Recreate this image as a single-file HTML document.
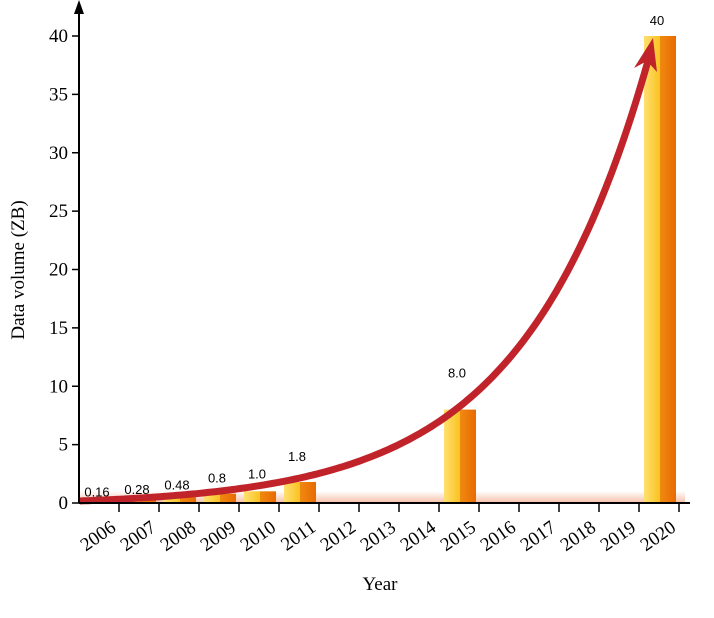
<!DOCTYPE html>
<html><head><meta charset="utf-8"><style>
body{margin:0;background:#fff;width:714px;height:618px;overflow:hidden}
svg{display:block}
.tk{font-family:"Liberation Serif",serif;font-size:19px;fill:#000}
.vl{font-family:"Liberation Sans",sans-serif;font-size:13px;fill:#000}
</style></head><body>
<svg id="chart" width="714" height="618" viewBox="0 0 714 618">
<defs>
<linearGradient id="floor" x1="0" y1="0" x2="0" y2="1"><stop offset="0" stop-color="#fff"/><stop offset="1" stop-color="#f7c0a8"/></linearGradient>
<linearGradient id="front" x1="0" y1="0" x2="1" y2="0"><stop offset="0" stop-color="#ffe070"/><stop offset="1" stop-color="#f9c320"/></linearGradient>
<linearGradient id="side" x1="0" y1="0" x2="1" y2="0"><stop offset="0" stop-color="#f08a10"/><stop offset="1" stop-color="#e86a00"/></linearGradient>
</defs>
<rect x="80" y="491" width="605" height="12" fill="url(#floor)"/>
<g id="bars"></g>
<g id="labels"></g>
<path id="arrow" d="" fill="none" stroke="#c0242a" stroke-width="7" stroke-linejoin="round"/>
<polygon points="653,38 634,68 647,61 657,72" fill="#c0242a"/>
<line x1="79" y1="503" x2="690" y2="503" stroke="#000" stroke-width="2"/>
<line x1="79" y1="503" x2="79" y2="6" stroke="#000" stroke-width="2"/>
<polygon points="79,0 74,14 84,14" fill="#000"/>
<g id="ticks"></g>
<text class="tk" x="380" y="590" text-anchor="middle" font-size="21">Year</text>
<text class="tk" transform="translate(24,270) rotate(-90)" text-anchor="middle" font-size="21">Data volume (ZB)</text>
</svg>
<script>
const years=["2006","2007","2008","2009","2010","2011","2012","2013","2014","2015","2016","2017","2018","2019","2020"];
const values=[0.16,0.28,0.48,0.8,1.0,1.8,null,null,null,8.0,null,null,null,null,40];
const valueLabels=["0.16","0.28","0.48","0.8","1.0","1.8","","","","8.0","","","","","40"];
const yTicks=[0,5,10,15,20,25,30,35,40];
const NS="http://www.w3.org/2000/svg";
const y0=503,pu=11.675;
function ys(v){return y0-v*pu;}
function xc(i){return 99+40*i;}
function mk(t,a,p){const e=document.createElementNS(NS,t);for(const k in a)e.setAttribute(k,a[k]);p.appendChild(e);return e;}
const bars=document.getElementById('bars'),labels=document.getElementById('labels'),ticks=document.getElementById('ticks');
values.forEach((v,i)=>{
  if(v==null)return;
  const c=xc(i),top=ys(v),h=y0-top;
  const g=mk('g',{},bars);
  
  
  mk('rect',{x:c-15,y:top,width:16,height:h,fill:'url(#front)'},g);
  mk('rect',{x:c+1,y:top,width:16,height:h,fill:'url(#side)'},g);
  const off=v>20?11:(v>5?32:3+v*10);
  const t=mk('text',{x:c-2,y:top-off,class:'vl','text-anchor':'middle'},labels);
  
  
  t.textContent=valueLabels[i];
});
// growth arrow (decorative exponential trend)
(function(){
  let d='';
  for(let x=80;x<=648;x+=4){
    const y=y0-2-4.84*(Math.exp(0.00796*(x-80))-1);
    d+=(x===80?'M':'L')+x+','+y.toFixed(1)+' ';
  }
  document.getElementById('arrow').setAttribute('d',d);
})();
yTicks.forEach(v=>{
  const y=ys(v);
  const l=mk('line',{x1:72,x2:79,y1:y,y2:y,stroke:'#000','stroke-width':1.5},ticks);
  
  
  const t=mk('text',{x:68,y:y+6,class:'tk','text-anchor':'end'},ticks);
  
  
  t.textContent=v;
});
years.forEach((yr,i)=>{
  const x=xc(i)+20;
  const l=mk('line',{x1:x,x2:x,y1:503,y2:512,stroke:'#000','stroke-width':1.5},ticks);
  
  
  const t=mk('text',{x:x-2,y:530,class:'tk','text-anchor':'end','font-size':'20',transform:`rotate(-35 ${x-2} 530)`},ticks);
  
  
  t.textContent=yr;
});
</script>
</body></html>
